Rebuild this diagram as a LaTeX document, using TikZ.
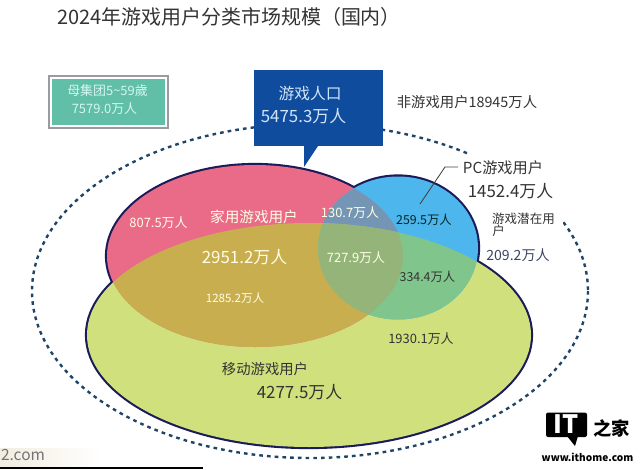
\documentclass[tikz,border=0pt]{standalone}
\usepackage{fontspec}
\setmainfont{Noto Sans CJK SC}

\definecolor{pinkfill}{HTML}{E96B88}
\definecolor{greenfill}{HTML}{D0E07C}
\definecolor{bluefill}{HTML}{4DB6EC}
\definecolor{pinkgreen}{HTML}{C9AE50}
\definecolor{pinkblue}{HTML}{7496B4}
\definecolor{bluegreen}{HTML}{80C68C}
\definecolor{allthree}{HTML}{94B47A}
\definecolor{outline}{HTML}{1B1B5A}
\definecolor{popblue}{HTML}{104C9E}
\definecolor{tealfill}{HTML}{60BFA6}
\definecolor{tealtext}{HTML}{D6F6F2}
\definecolor{popltext}{HTML}{D2E6F8}
\definecolor{grayline}{HTML}{9A9AA0}
\definecolor{dotblue}{HTML}{1F4468}
\definecolor{slatetext}{HTML}{3A4660}
\definecolor{beige}{HTML}{F3EDE0}

\tikzset{
  lbl/.style={inner sep=0pt, font=\fontsize{#1}{#1}\selectfont},
  lbl/.default=8,
  darklbl/.style={lbl=#1, text=black!80},
  lightlbl/.style={lbl=#1, text=white!90!yellow},
}

\begin{document}
\begin{tikzpicture}[x=0.025cm,y=-0.025cm]

\useasboundingbox (0,0) rectangle (640,469);

\draw[dotblue, line width=1.7pt, dash pattern=on 2.6pt off 2.9pt] (310,291) ellipse (278 and 167);
\fill[white] (470,150) rectangle (563,226);

\draw[outline, line width=3pt] (255,256) ellipse (148 and 91);
\draw[outline, line width=3pt] (398,248) ellipse (80 and 71.5);
\draw[outline, line width=3pt] (309,335) ellipse (222 and 112);

\fill[greenfill] (309,335) ellipse (222 and 112);
\fill[pinkfill] (255,256) ellipse (148 and 91);
\fill[bluefill] (398,248) ellipse (80 and 71.5);

\begin{scope}
\clip (255,256) ellipse (148 and 91);
\fill[pinkblue] (398,248) ellipse (80 and 71.5);
\fill[pinkgreen] (309,335) ellipse (222 and 112);
\end{scope}

\begin{scope}
\clip (398,248) ellipse (80 and 71.5);
\fill[bluegreen] (309,335) ellipse (222 and 112);
\clip (255,256) ellipse (148 and 91);
\fill[allthree] (309,335) ellipse (222 and 112);
\end{scope}

\fill[popblue] (254,70) rectangle (383,146);
\fill[popblue] (304,146) -- (304,167) -- (318,146) -- cycle;

\node[draw=grayline, line width=1pt, fill=white, minimum width=119*0.7113pt, minimum height=52*0.7113pt, inner sep=0pt] (parentouter) at (108.5,102) {};
\node[fill=tealfill, minimum width=113*0.7113pt, minimum height=46*0.7113pt, inner sep=0pt] (parentbox) at (108.5,102) {};

\node[darklbl=14.2] (title) at (229,17) {2024年游戏用户分类市场规模（国内）};

\node[lbl=9.2, text=tealtext] (parenta) at (107.5,91) {母集团5\textasciitilde59歲};
\node[lbl=9.2, text=tealtext] (parentb) at (104.5,109) {7579.0万人};

\node[lbl=11.2, text=popltext] (gamepopa) at (310,94) {游戏人口};
\node[lbl=12, text=popltext] (gamepopb) at (303.5,116) {5475.3万人};

\node[darklbl=10.2] (nongame) at (467,102) {非游戏用户18945万人};

\node[darklbl=10.8] (pca) at (503,168) {PC游戏用户};
\node[darklbl=12] (pcb) at (510.5,191) {1452.4万人};
\coordinate (pcstart) at (458,167);
\coordinate (pcbend) at (445,167);
\coordinate (pcfoot) at (420,204);
\draw[black!75, line width=0.6pt] (pcstart) -- (pcbend) -- (pcfoot);

\node[darklbl=8.9] (potentiala) at (523.5,219) {游戏潜在用};
\node[darklbl=8.9, anchor=west] (potentialb) at (492,231) {户};
\node[lbl=10, text=slatetext] (potentialc) at (518,255) {209.2万人};

\node[lightlbl=9.2] (onlypink) at (158.5,223) {807.5万人};
\node[lightlbl=10.4] (pinka) at (254,217) {家用游戏用户};
\node[lightlbl=12] (pinkb) at (244.5,257) {2951.2万人};
\node[lightlbl=8.2] (pinkgreennum) at (235,298) {1285.2万人};

\node[lightlbl=9.2] (pinkbluenum) at (350,213) {130.7万人};
\node[lbl=8.8, text=black!70!teal] (onlyblue) at (424,220) {259.5万人};
\node[lightlbl=9.2] (centernum) at (356,258) {727.9万人};
\node[darklbl=8.8] (bluegreennum) at (427.5,277) {334.4万人};

\node[darklbl=9.2] (onlygreen) at (421,339) {1930.1万人};
\node[darklbl=10.2] (greena) at (265,369) {移动游戏用户};
\node[darklbl=12] (greenb) at (299.5,392) {4277.5万人};

\shade[left color=beige, right color=white] (0,448) rectangle (100,467);
\node[lbl=11, text=black!55] (site) at (23,455) {2.com};
\draw[black, line width=0.8pt] (0,468) -- (203,468);

\fill[black, rounded corners=1.5pt] (546,412.5) rectangle (587,437);
\fill[black] (567,436) -- (578,436) -- (575,446) -- cycle;
\node[text=white, inner sep=0pt, font=\fontsize{18}{18}\selectfont\bfseries] (logoit) at (566.5,424) {IT};
\node[text=black, inner sep=0pt, font=\fontsize{13}{13}\selectfont\bfseries] (logohome) at (611.5,428) {之家};
\node[text=black, inner sep=0pt, font=\fontsize{7.2}{7.2}\selectfont\bfseries] (logosite) at (587.5,457) {www.ithome.com};

\end{tikzpicture}
\end{document}
